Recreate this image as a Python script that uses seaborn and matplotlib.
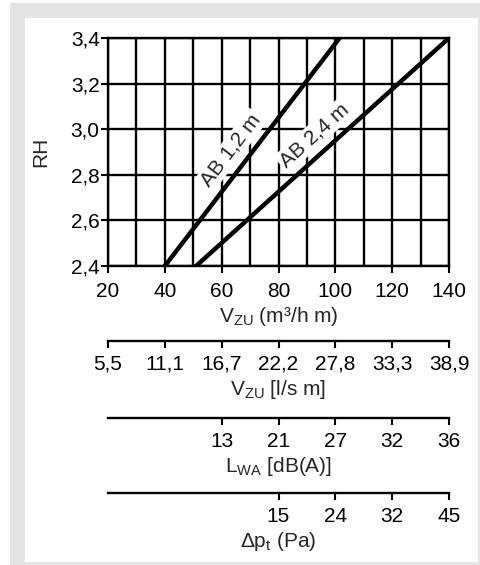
import numpy as np
import pandas as pd
import matplotlib
matplotlib.use("Agg")
import matplotlib.pyplot as plt
from matplotlib.patches import Rectangle
import seaborn as sns

# Chart data
flow_m3h = [20, 40, 60, 80, 100, 120, 140]
flow_ls_labels = ["5,5", "11,1", "16,7", "22,2", "27,8", "33,3", "38,9"]
lwa_pos = [60, 80, 100, 120, 140]
lwa_labels = ["13", "21", "27", "32", "36"]
dp_pos = [80, 100, 120, 140]
dp_labels = ["15", "24", "32", "45"]
rh_ticks = [2.4, 2.6, 2.8, 3.0, 3.2, 3.4]
rh_labels = ["2,4", "2,6", "2,8", "3,0", "3,2", "3,4"]

series = ["AB 1,2 m", "AB 2,4 m"]
line_x = [[40, 101.5], [51, 140]]
line_y = [[2.4, 3.4], [2.4, 3.4]]
label_frac = [0.46, 0.515]

df = pd.DataFrame({
    "name": [s for s in series for _ in range(2)],
    "V": [v for xs in line_x for v in xs],
    "RH": [v for ys in line_y for v in ys],
})

sns.set_style("white")
plt.rcParams["font.family"] = ["Liberation Sans", "DejaVu Sans"]
plt.rcParams["mathtext.fontset"] = "custom"
plt.rcParams["mathtext.rm"] = "Liberation Sans"
plt.rcParams["mathtext.default"] = "regular"

FS = 15
W, H = 480, 565
fig = plt.figure(figsize=(4.8, 5.65), dpi=100, facecolor="white")

# grey frame and white panel
fig.patches.append(Rectangle((10 / W, 0), 470 / W, 562 / H, transform=fig.transFigure,
                             facecolor="#e5e5e5", edgecolor="none", zorder=-2))
fig.patches.append(Rectangle((25 / W, 3 / H), 453 / W, 544 / H, transform=fig.transFigure,
                             facecolor="white", edgecolor="none", zorder=-1))

left, right = 108 / W, 449 / W
ax = fig.add_axes([left, (H - 266) / H, right - left, 228 / H])
ax.set_facecolor("none")

sns.lineplot(data=df, x="V", y="RH", hue="name", palette=["black", "black"],
             linewidth=3.2, legend=False, ax=ax, zorder=5)

ax.set_xlim(20, 140)
ax.set_ylim(2.4, 3.4)
ax.set_xticks(flow_m3h)
ax.set_xticklabels([str(v) for v in flow_m3h], fontsize=FS)
ax.set_xticks(np.arange(30, 140, 20), minor=True)
ax.set_yticks(rh_ticks)
ax.set_yticklabels(rh_labels, fontsize=FS)
ax.grid(True, which="both", axis="x", color="black", linewidth=1.7, zorder=1)
ax.grid(True, which="major", axis="y", color="black", linewidth=1.7, zorder=1)
ax.set_axisbelow(True)
ax.tick_params(axis="x", which="major", direction="out", length=5, width=1.5, pad=6.5,
               bottom=True, colors="black")
ax.tick_params(axis="y", which="major", direction="out", length=5, width=1.5, pad=1,
               left=True, colors="black")
ax.tick_params(which="minor", length=0)
for sp in ax.spines.values():
    sp.set_linewidth(1.7)
    sp.set_color("black")
ax.set_xlabel("V$_{ZU}$ (m³/h m)", fontsize=FS, labelpad=3)
ax.set_ylabel("RH", fontsize=FS, labelpad=15)

# labels along the lines
for name, xs, ys, t in zip(series, line_x, line_y, label_frac):
    p0 = ax.transData.transform((xs[0], ys[0]))
    p1 = ax.transData.transform((xs[1], ys[1]))
    ang = np.degrees(np.arctan2(p1[1] - p0[1], p1[0] - p0[0]))
    px = xs[0] + t * (xs[1] - xs[0])
    py = ys[0] + t * (ys[1] - ys[0])
    d = 13
    off = (-d * np.sin(np.radians(ang)), d * np.cos(np.radians(ang)))
    ax.annotate(name, (px, py), xytext=off, textcoords="offset points",
                rotation=ang, rotation_mode="anchor", ha="center", va="center",
                fontsize=FS, zorder=3,
                bbox=dict(boxstyle="square,pad=0.1", facecolor="white", edgecolor="none"))

# extra scales below the chart
scales = [
    (341, flow_m3h, flow_ls_labels, "V$_{ZU}$ [l/s m]"),
    (418, lwa_pos, lwa_labels, "L$_{WA}$ [dB(A)]"),
    (493, dp_pos, dp_labels, "Δp$_{t}$ (Pa)"),
]
for ypix, pos, labs, title in scales:
    sax = fig.add_axes([left, (H - ypix) / H, right - left, 0.0001])
    sax.set_facecolor("none")
    sax.set_xlim(20, 140)
    sax.set_yticks([])
    for k in ["top", "left", "right"]:
        sax.spines[k].set_visible(False)
    sax.spines["bottom"].set_linewidth(1.7)
    sax.spines["bottom"].set_color("black")
    sax.set_xticks(pos)
    sax.set_xticklabels(labs, fontsize=FS)
    sax.tick_params(axis="x", direction="out", length=5, width=1.5, pad=5,
                    bottom=True, colors="black")
    sax.set_xlabel(title, fontsize=FS, labelpad=3)

fig.savefig("out.png", dpi=100, facecolor="white")
